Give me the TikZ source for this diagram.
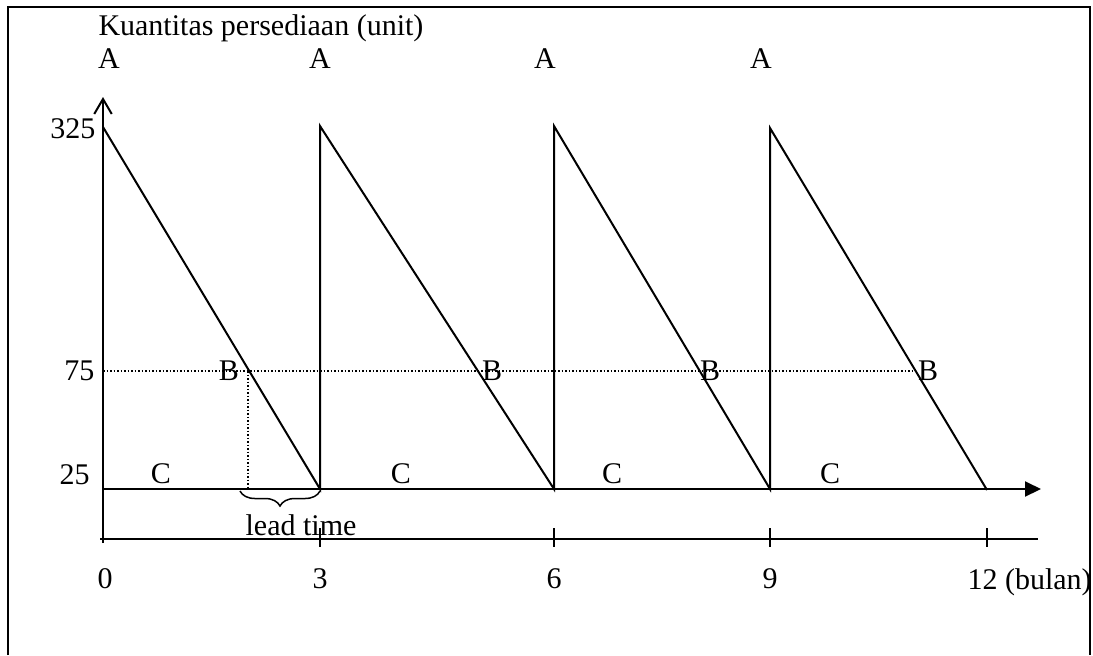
\documentclass[tikz,border=0pt]{standalone}
\usepackage{fontspec}
\setmainfont{Liberation Serif}
\usepackage{tikz}
\usetikzlibrary{arrows.meta, decorations.pathreplacing}
\tikzset{
  saw/.style={line width=0.8pt, line join=miter},
  axis/.style={line width=0.8pt},
  guide/.style={line width=0.45pt, dash pattern=on 0.6pt off 0.8pt},
  frame/.style={line width=0.7pt},
  lbl/.style={inner sep=0pt, font=\fontsize{12}{14}\selectfont}
}

\begin{document}
\begin{tikzpicture}[x=0.4pt, y=-0.4pt]
  \useasboundingbox (0,0) rectangle (1093,655);
  % ── Frame ───────────────────────────────────────────────────────────────────
  \draw[frame] (8,655) -- (8,7) -- (1090,7) -- (1090,655);

  % ── Points of the saw ───────────────────────────────────────────────────────
  \coordinate (p0) at (103,127);
  \coordinate (p1) at (320,126);
  \coordinate (p2) at (554,126);
  \coordinate (p3) at (770,128);
  \coordinate (b1) at (320,489);
  \coordinate (b2) at (554,489);
  \coordinate (b3) at (770,489);
  \coordinate (b4) at (987,490);
  \coordinate (ybot) at (103,543);
  \coordinate (ytop) at (103,97);
  \coordinate (xend) at (1041,489);
  \coordinate (tstart) at (100,539);
  \coordinate (tend) at (1038,539);
  \coordinate (r0) at (103,371);
  \coordinate (r1) at (248,371);
  \coordinate (r4) at (916,371);
  \coordinate (c1) at (248,489);
  \coordinate (lt0) at (240,491);
  \coordinate (lt1) at (320,491);

  % ── Axes ──────────────────────────────────────────────────────────────────
  \draw[axis, -{Straight Barb[length=6pt, width=7pt]}] (ybot) -- (ytop);
  \draw[axis, -{Triangle[length=6.4pt, width=6pt]}] (r0 |- b1) -- (xend);
  \draw[axis] (tstart) -- (tend);
  \foreach \t in {320,554,770,987}
    \draw[axis] (\t,528) -- (\t,547);

  % ── Reorder level ─────────────────────────────────────────────────────────
  \draw[guide] (r0) -- (r4);
  \draw[guide] (r1) -- (c1);

  % ── Inventory ─────────────────────────────────────────────────────────────
  \draw[saw] (p0) -- (b1) -- (p1) -- (b2) -- (p2) -- (b3) -- (p3) -- (b4);

  % ── Lead time ─────────────────────────────────────────────────────────────
  \draw[line width=0.6pt, decorate, decoration={brace, mirror, amplitude=6pt}] (lt0) -- (lt1);
  \node[lbl, anchor=base] (lead) at (301,535) {lead time};

  % ── Labels ──────────────────────────────────────────────────────────────────
  \node[lbl, anchor=base west] (ttl) at (98,35) {Kuantitas persediaan (unit)};
  \node[lbl, anchor=base] (a0) at (109,68) {A};
  \node[lbl, anchor=base] (a1) at (320,68) {A};
  \node[lbl, anchor=base] (a2) at (545,68) {A};
  \node[lbl, anchor=base] (a3) at (761,68) {A};
  \node[lbl, anchor=base] (bb0) at (229,380) {B};
  \node[lbl, anchor=base] (bb1) at (492,380) {B};
  \node[lbl, anchor=base] (bb2) at (710,380) {B};
  \node[lbl, anchor=base] (bb3) at (928,380) {B};
  \node[lbl, anchor=base] (cc0) at (161,483) {C};
  \node[lbl, anchor=base] (cc1) at (401,483) {C};
  \node[lbl, anchor=base] (cc2) at (612,483) {C};
  \node[lbl, anchor=base] (cc3) at (830,483) {C};
  % Scale labels
  \node[lbl, anchor=base east] (q325) at (96,138) {325};
  \node[lbl, anchor=base east] (q75) at (95,380) {75};
  \node[lbl, anchor=base east] (q25) at (90,484) {25};
  \node[lbl, anchor=base] (m0) at (105,588) {0};
  \node[lbl, anchor=base] (m3) at (320,588) {3};
  \node[lbl, anchor=base] (m6) at (554,588) {6};
  \node[lbl, anchor=base] (m9) at (770,588) {9};
  \node[lbl, anchor=base west] (m12) at (967,589) {12 (bulan)};
\end{tikzpicture}
\end{document}
